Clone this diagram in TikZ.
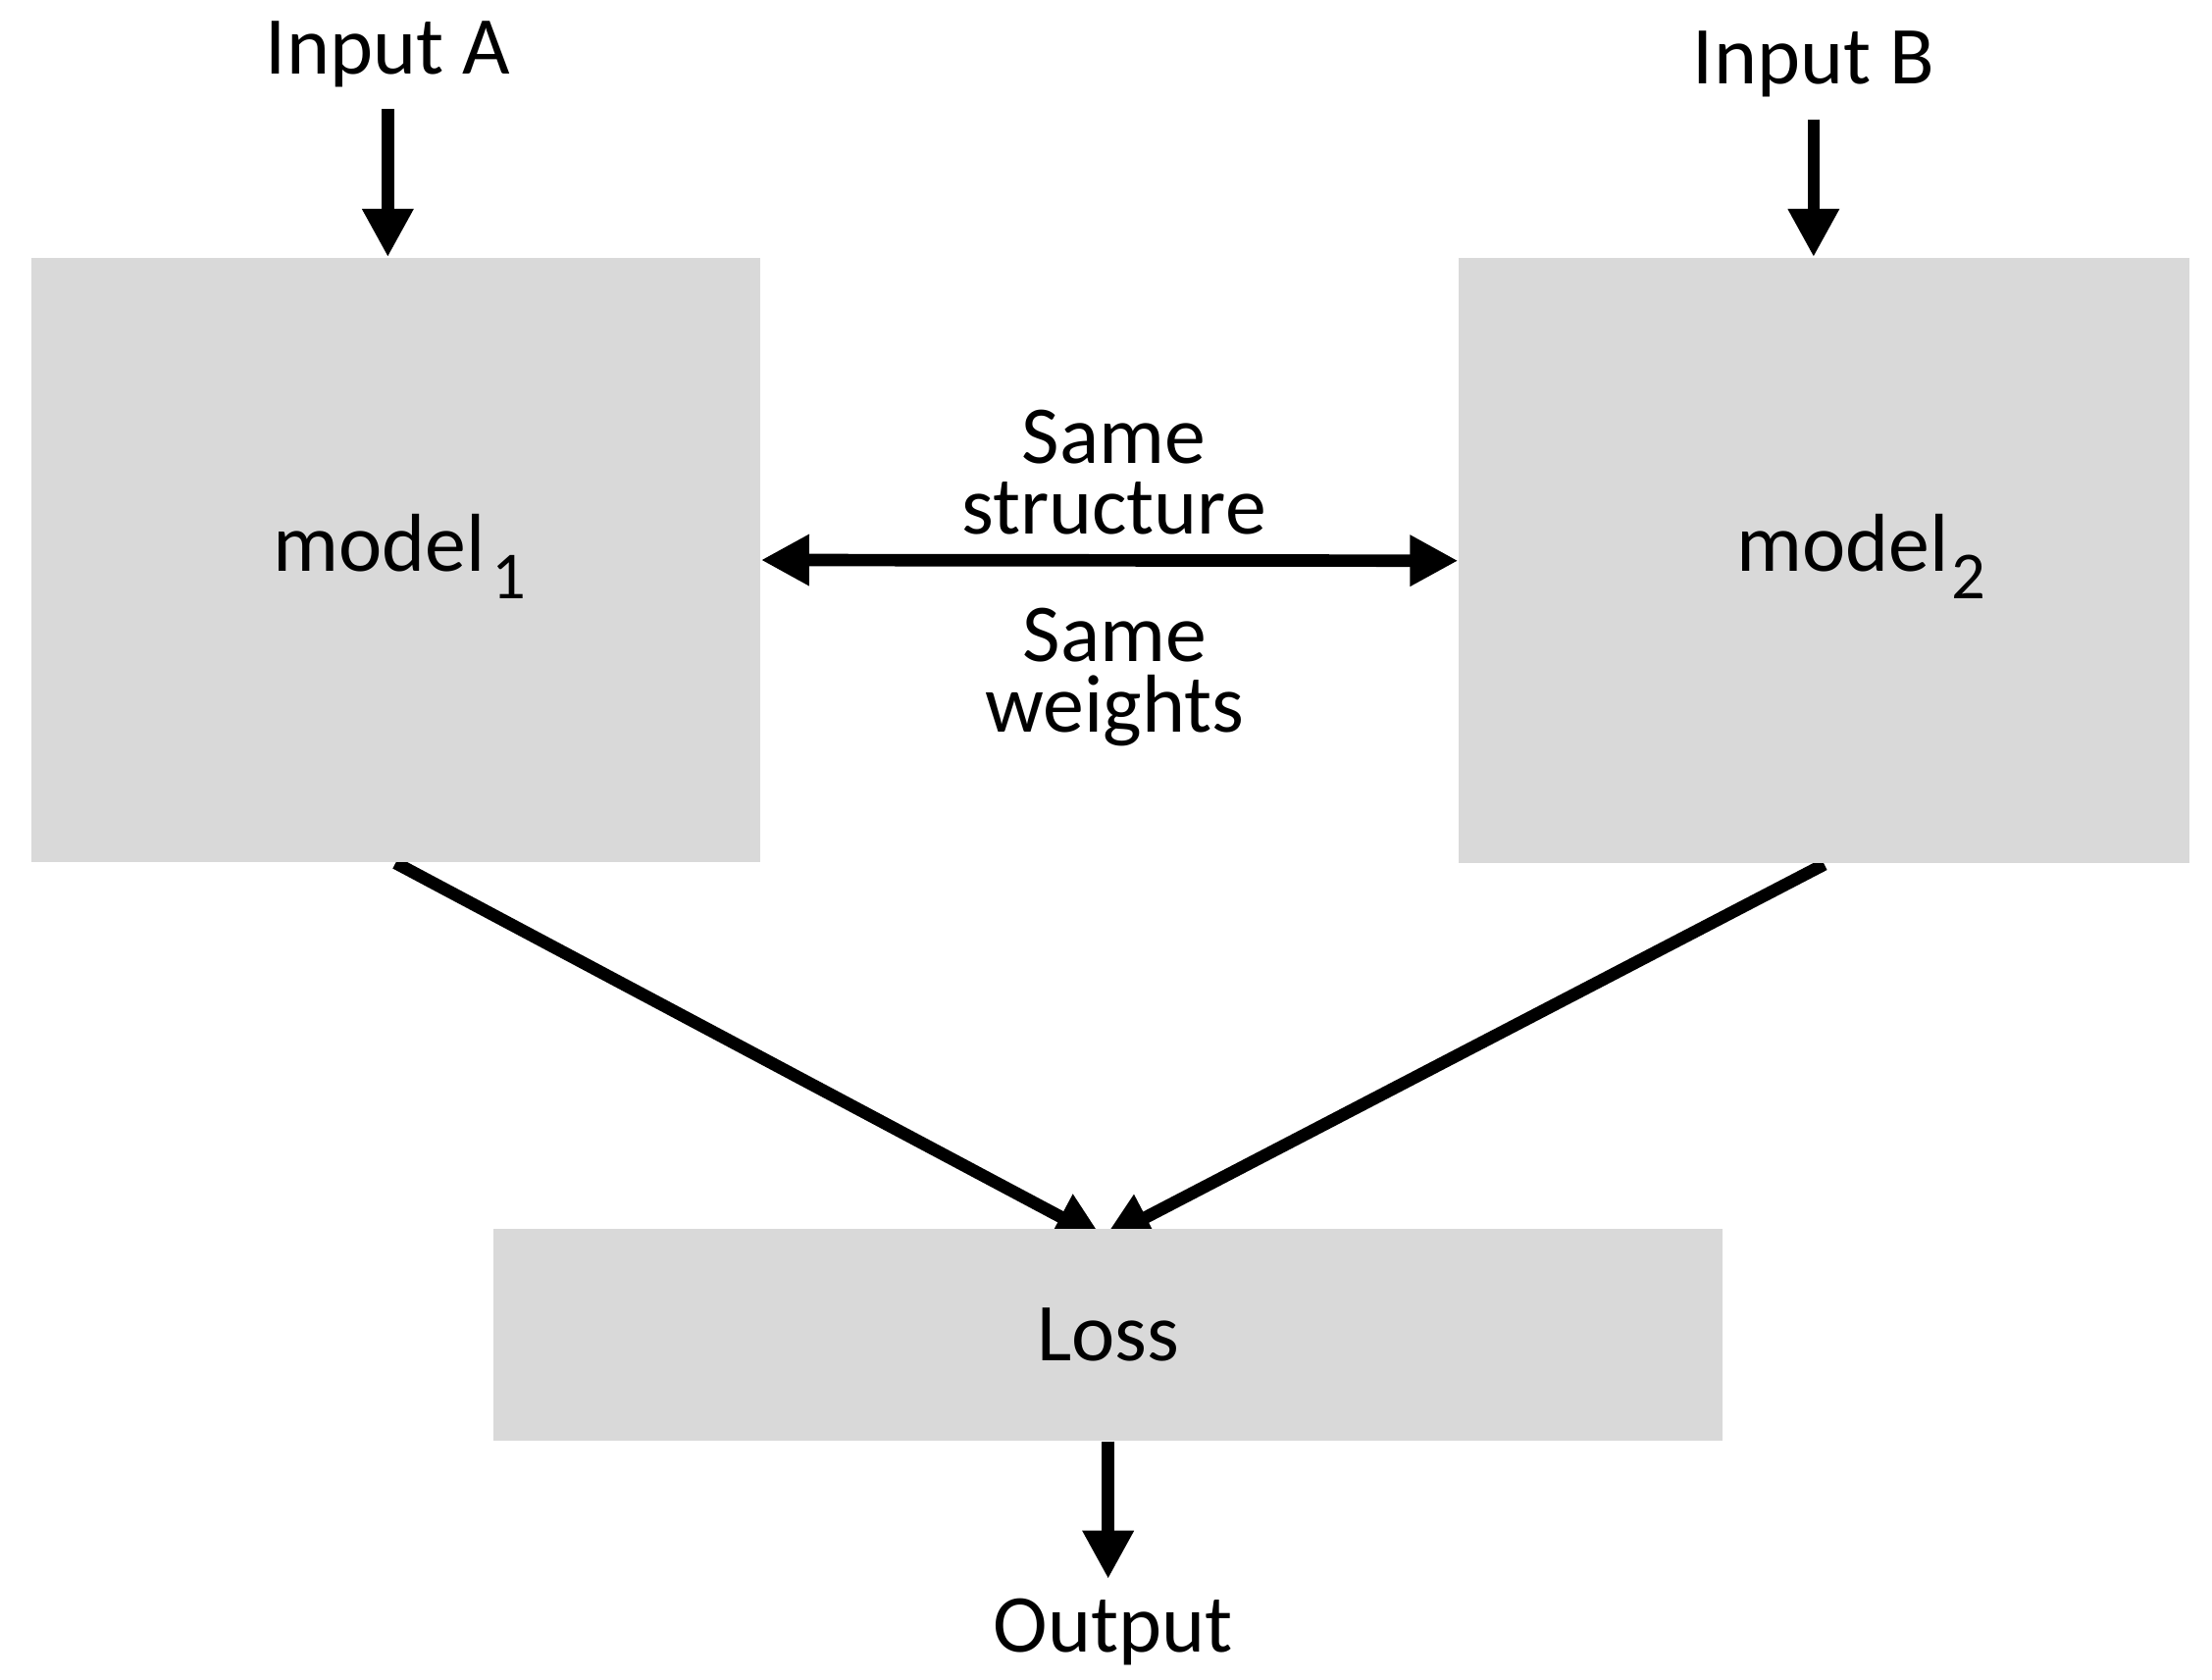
\documentclass[tikz,border=0pt]{standalone}
\usepackage{fontspec}
\setmainfont{Carlito}
\usepackage{xcolor}
\usepackage{tikz}
\usetikzlibrary{arrows.meta,positioning,backgrounds}
\definecolor{boxgray}{RGB}{217,217,217}

\begin{document}
\begin{tikzpicture}[
        block/.style={rectangle, fill=boxgray, inner sep=0pt},
        lbl/.style={font=\fontsize{16.5}{14.2}\selectfont, align=center, inner sep=0pt},
        arrow/.style={-{Triangle[length=0.34cm,width=0.34cm]}, line width=2.5pt},
        dblarrow/.style={{Triangle[length=0.34cm,width=0.34cm]}-{Triangle[length=0.34cm,width=0.34cm]}, line width=2.5pt}
    ]
        \useasboundingbox (0,0) rectangle (15.6,-11.85);

        % Blocks
        \node[block, minimum width=5.14cm, minimum height=4.26cm] (model1) at (2.79,-3.95) {};
        \node[block, minimum width=5.15cm, minimum height=4.27cm] (model2) at (12.865,-3.955) {};
        \node[block, lbl, minimum width=8.67cm, minimum height=1.49cm] (loss) at (7.815,-9.415) {Loss};

        % Labels
        \node[lbl, anchor=base] (inA) at (2.735,-0.52) {Input A};
        \node[lbl, anchor=base] (inB) at (12.79,-0.59) {Input B};
        \node[lbl, anchor=base west] (name1) at (1.92,-4.03) {model\hspace{0.05cm}\raisebox{-0.19cm}{\fontsize{13.5}{13.5}\selectfont 1}};
        \node[lbl, anchor=base west] (name2) at (12.24,-4.03) {model\hspace{0.02cm}\raisebox{-0.19cm}{\fontsize{13.5}{13.5}\selectfont 2}};
        \node[lbl, anchor=south] (struct) at (7.855,-3.78) {Same\\structure};
        \node[lbl, anchor=north] (weights) at (7.86,-4.28) {Same\\weights};
        \node[lbl, anchor=base] (out) at (7.85,-11.65) {Output};

        % Arrows
        \draw[arrow, shorten <=0.15cm] (inA.south) -- (inA.south |- model1.north);
        \draw[arrow, shorten <=0.15cm] (inB.south) -- (inB.south |- model2.north);
        \draw[dblarrow] (model1.east) -- (model2.west);
        \draw[arrow, shorten >=0.13cm] (loss.south) -- (loss.south |- out.north);
        \begin{scope}[on background layer]
            \draw[arrow] (model1.south) -- ([xshift=-0.035cm,yshift=-0.08cm]loss.north);
            \draw[arrow] (model2.south) -- ([xshift=-0.035cm,yshift=-0.08cm]loss.north);
        \end{scope}

    \end{tikzpicture}
\end{document}
